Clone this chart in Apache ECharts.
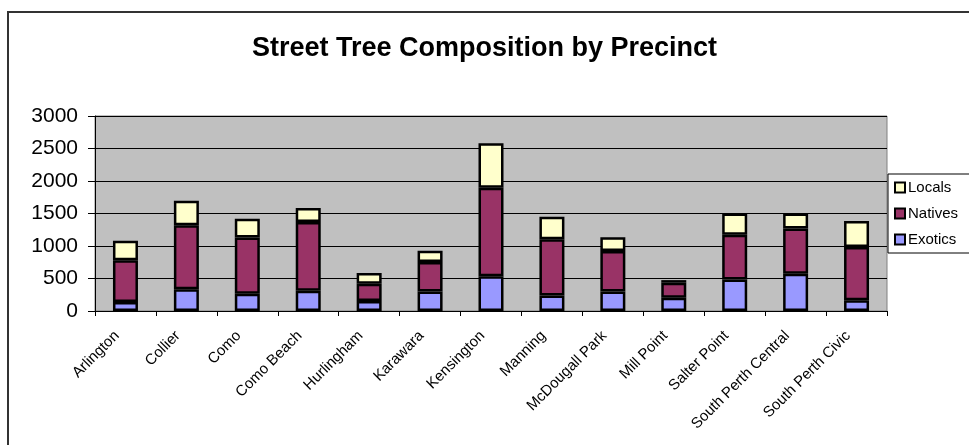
<!DOCTYPE html>
<html>
<head>
<meta charset="utf-8">
<script src="https://cdn.jsdelivr.net/npm/echarts@6/dist/echarts.min.js"></script>
<style>
html,body{margin:0;padding:0;background:#fff;}
#chart{width:969px;height:445px;}
</style>
</head>
<body>
<div id="chart"></div>
<script>
const categories = ['Arlington','Collier','Como','Como Beach','Hurlingham','Karawara','Kensington','Manning','McDougall Park','Mill Point','Salter Point','South Perth Central','South Perth Civic'];
const exotics = [140,335,265,310,155,300,535,240,300,205,485,575,165];
const natives = [640,985,865,1060,265,455,1360,865,625,230,690,695,820];
const locals  = [300,375,290,215,165,170,685,345,210,40,325,230,400];
const yTicks = [0,500,1000,1500,2000,2500,3000];

const FONT = "'Liberation Sans', Arial, sans-serif";
const chart = echarts.init(document.getElementById('chart'), null, {renderer:'canvas'});

function barSeries(name, data, color){
  return {
    name: name, type: 'bar', stack: 'total', data: data,
    barWidth: 25,
    itemStyle: {color: color, borderColor: '#000', borderWidth: 2.5},
    emphasis: {disabled: true}
  };
}

chart.setOption({
  animation: false,
  backgroundColor: '#fff',
  textStyle: {fontFamily: FONT},
  title: {
    text: 'Street Tree Composition by Precinct',
    left: 'center', top: 30,
    textStyle: {fontFamily: FONT, fontSize: 27, fontWeight: 'bold', color: '#000'}
  },
  graphic: [{
    type: 'rect', silent: true, z: 100,
    shape: {x: 8, y: 12, width: 1000, height: 500},
    style: {fill: null, stroke: '#333', lineWidth: 2}
  }],
  legend: {
    data: ['Locals','Natives','Exotics'],
    orient: 'vertical',
    left: 888, top: 174,
    padding: [6, 14, 6, 6],
    itemGap: 11,
    itemWidth: 10, itemHeight: 10,
    icon: 'rect',
    borderColor: '#000', borderWidth: 1,
    backgroundColor: '#fff',
    textStyle: {fontFamily: FONT, fontSize: 15, color: '#000', padding: [0,0,0,-2]}
  },
  grid: {
    left: 95, right: 82, top: 116, bottom: 134,
    show: true, backgroundColor: '#C0C0C0', borderColor: '#808080', borderWidth: 1
  },
  xAxis: {
    type: 'category',
    data: categories,
    boundaryGap: true,
    axisLine: {lineStyle: {color: '#000', width: 1}},
    axisTick: {show: true, alignWithLabel: false, length: 5, inside: false, lineStyle: {color: '#000'}},
    axisLabel: {interval: 0, rotate: 45, margin: 14, padding: [0, 12, 0, 0], fontFamily: FONT, fontSize: 15, color: '#000'}
  },
  yAxis: {
    type: 'value',
    min: 0, max: 3000, interval: 500,
    axisLine: {show: true, lineStyle: {color: '#000', width: 1}},
    axisTick: {show: true, length: 7, lineStyle: {color: '#000'}},
    axisLabel: {margin: 17, fontFamily: FONT, fontSize: 21, color: '#000',
      formatter: function(v){ return yTicks.indexOf(v) >= 0 ? String(v) : ''; }},
    splitLine: {show: true, lineStyle: {color: '#000', width: 1}}
  },
  series: [
    barSeries('Exotics', exotics, '#9999FF'),
    barSeries('Natives', natives, '#993366'),
    barSeries('Locals', locals, '#FFFFCC')
  ]
});
</script>
</body>
</html>
